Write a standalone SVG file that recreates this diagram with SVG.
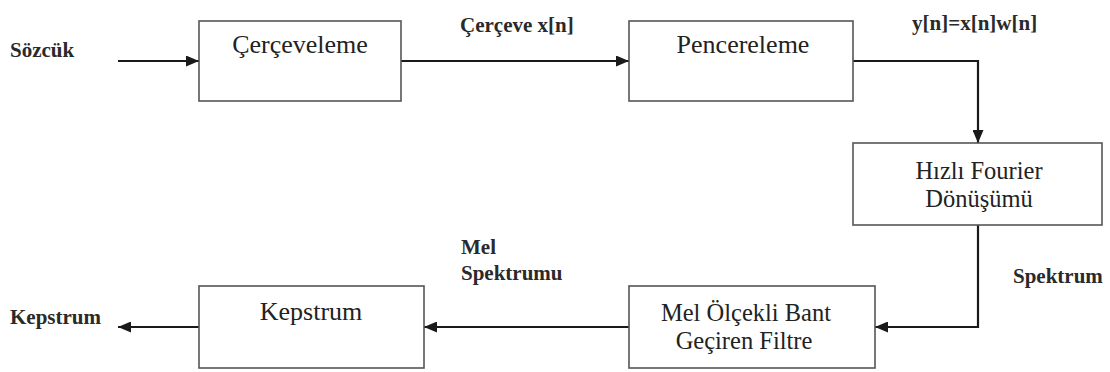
<svg xmlns="http://www.w3.org/2000/svg" width="1110" height="372" viewBox="0 0 1110 372">
<style>
.box{fill:#fff;stroke:#555;stroke-width:1.6}
.bt{font-family:"Liberation Serif","Times New Roman",serif;font-size:26px;fill:#222;text-anchor:middle}
.bt2{font-family:"Liberation Serif","Times New Roman",serif;font-size:24.5px;fill:#222;text-anchor:middle}
.lb{font-family:"Liberation Serif","Times New Roman",serif;font-size:21px;font-weight:bold;fill:#2a2a2a}
.ln{fill:none;stroke:#1a1a1a;stroke-width:2.2}
</style>
<defs>
<marker id="ah" viewBox="0 0 13 11" refX="13" refY="5.5" markerWidth="13" markerHeight="11" markerUnits="userSpaceOnUse" orient="auto">
<path d="M0,0 L13,5.5 L0,11 z" fill="#1a1a1a"/>
</marker>
</defs>
<rect width="1110" height="372" fill="#fff"/>
<g id="connectors">
<line class="ln" x1="118" y1="61" x2="199" y2="61" marker-end="url(#ah)"/>
<line class="ln" x1="401" y1="61" x2="629" y2="61" marker-end="url(#ah)"/>
<polyline class="ln" points="853,61 978,61 978,143" marker-end="url(#ah)"/>
<polyline class="ln" points="978,225 978,327 875,327" marker-end="url(#ah)"/>
<line class="ln" x1="629" y1="327" x2="424" y2="327" marker-end="url(#ah)"/>
<line class="ln" x1="199" y1="327" x2="118" y2="327" marker-end="url(#ah)"/>
</g>
<g id="labels">
<text class="lb" x="10" y="57">Sözcük</text>
<text class="lb" x="460" y="32">Çerçeve x[n]</text>
<text class="lb" x="912" y="30">y[n]=x[n]w[n]</text>
<text class="lb" x="1013" y="283">Spektrum</text>
<text class="lb" x="461" y="254">Mel</text>
<text class="lb" x="461" y="280">Spektrumu</text>
<text class="lb" x="10" y="324">Kepstrum</text>
</g>
<g id="cerceveleme">
<rect class="box" x="199" y="21" width="202" height="80"/>
<text class="bt" x="300" y="53">Çerçeveleme</text>
</g>
<g id="pencereleme">
<rect class="box" x="629" y="21" width="224" height="80"/>
<text class="bt" x="743" y="53">Pencereleme</text>
</g>
<g id="fft">
<rect class="box" x="853" y="143" width="249" height="82"/>
<text class="bt2" x="979" y="179">Hızlı Fourier</text>
<text class="bt2" x="979" y="207">Dönüşümü</text>
</g>
<g id="melfiltre">
<rect class="box" x="629" y="286" width="246" height="82"/>
<text class="bt2" x="746" y="321">Mel Ölçekli Bant</text>
<text class="bt2" x="744" y="349">Geçiren Filtre</text>
</g>
<g id="kepstrum">
<rect class="box" x="199" y="286" width="225" height="82"/>
<text class="bt" x="311" y="320">Kepstrum</text>
</g>
</svg>
